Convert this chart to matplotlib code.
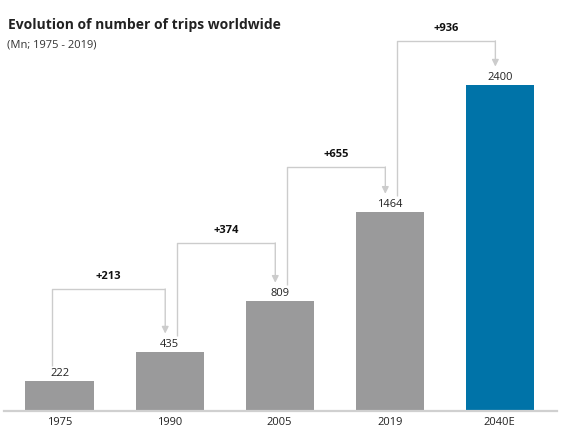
import matplotlib
matplotlib.use("Agg")
import matplotlib.pyplot as plt

categories = ["1975", "1990", "2005", "2019", "2040E"]
values = [222, 435, 809, 1464, 2400]
bar_colors = ["#9a9a9b", "#9a9a9b", "#9a9a9b", "#9a9a9b", "#0073a8"]
diff_labels = ["+213", "+374", "+655", "+936"]
# horizontal level of each bracket (data units)
bracket_levels = [898, 1237, 1796, 2724]

title = "Evolution of number of trips worldwide"
subtitle = "(Mn; 1975 - 2019)"

plt.rcParams['font.family'] = ['Open Sans', 'DejaVu Sans']

fig = plt.figure(figsize=(5.61, 4.43), dpi=100)
ax = fig.add_axes([4/561, 32/443, 553/561, 391/443])
x = list(range(len(categories)))
ax.bar(x, values, width=0.62, color=bar_colors, zorder=2)
ax.set_xlim(-0.505, 4.52)
ax.set_ylim(0, 2878)

for xi, v in zip(x, values):
    ax.text(xi, v + 12, f"{v}", ha="center", va="bottom", fontsize=8, color="#222222")

line_c = "#cccccc"
for i, (lab, lvl) in enumerate(zip(diff_labels, bracket_levels)):
    x0 = x[i] + 0.07 if i > 0 else x[i] - 0.07
    x1 = x[i + 1] - 0.04
    y0 = values[i] + (110 if i == 0 else 120)
    y1 = values[i + 1] + 135
    ax.plot([x0, x0, x1], [y0, lvl, lvl], color=line_c, lw=1.0, zorder=1, solid_capstyle="butt")
    ax.annotate("", xy=(x1, y1), xytext=(x1, lvl),
                arrowprops=dict(arrowstyle="-|>,head_length=0.4,head_width=0.2",
                                color=line_c, lw=1.0, shrinkA=0, shrinkB=0))
    ax.text((x0 + x1) / 2, lvl + 50, lab, ha="center", va="bottom",
            fontsize=8, fontweight="bold", color="#111111")

for s in ["top", "right", "left"]:
    ax.spines[s].set_visible(False)
ax.spines["bottom"].set_color("#d0d0d0")
ax.spines["bottom"].set_linewidth(1.6)
ax.set_yticks([])
ax.set_xticks(x)
ax.set_xticklabels(categories, fontsize=8, color="#222222")
ax.tick_params(axis="x", length=0, pad=4)

fig.text(8/561, 1 - 25/443, title, fontsize=10, fontweight="bold", color="#222222",
         ha="left", va="center")
fig.text(7/561, 1 - 45/443, subtitle, fontsize=8, color="#333333", ha="left", va="center")

fig.savefig("out.png", dpi=100)
